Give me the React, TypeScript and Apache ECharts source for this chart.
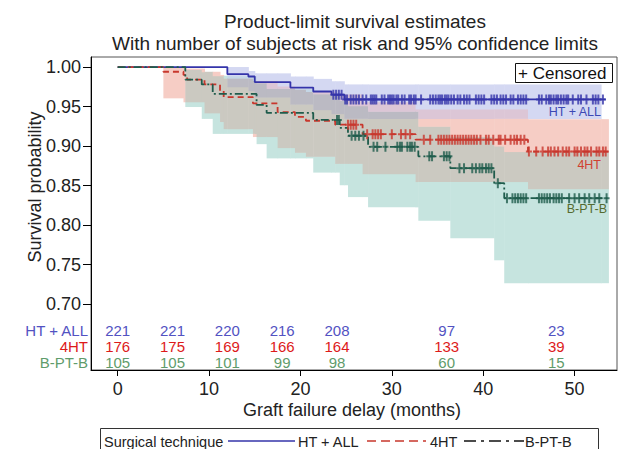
import React, { useEffect, useRef } from "react";
import * as echarts from "echarts";

const FONT = "'Liberation Sans', Arial, Helvetica, sans-serif";

// ---- axis ticks ----
const X_TICKS = [0, 10, 20, 30, 40, 50];
const Y_TICKS = [0.7, 0.75, 0.8, 0.85, 0.9, 0.95, 1.0];

// ---- Kaplan-Meier curves [time (months), survival] ----
const HT_ALL_CURVE: [number, number][] = [
  [0, 1.0], [12.0, 0.991], [14.3, 0.988], [15.0, 0.981], [18.9, 0.974],
  [21.4, 0.969], [23.4, 0.965], [24.8, 0.959], [53.4, 0.959],
];
const FOUR_HT_CURVE: [number, number][] = [
  [0, 1.0], [5.0, 0.994], [7.2, 0.99], [7.6, 0.984], [9.5, 0.978], [11.2, 0.97],
  [11.6, 0.962], [14.8, 0.954], [17.5, 0.943], [19.4, 0.937], [20.6, 0.932],
  [23.8, 0.927], [26.8, 0.915], [32.6, 0.908], [44.9, 0.893], [53.7, 0.893],
];
const BPTB_CURVE: [number, number][] = [
  [0, 1.0], [7.4, 0.984], [9.2, 0.978], [10.4, 0.966], [15.2, 0.952],
  [16.3, 0.942], [21.4, 0.933], [24.3, 0.923], [25.2, 0.913], [27.4, 0.899],
  [32.9, 0.887], [36.4, 0.872], [41.2, 0.853], [42.3, 0.834], [53.9, 0.834],
];

// ---- censored times ----
const HT_ALL_CENSORED = [
  23.6, 23.9, 24.2, 24.5, 24.9, 25.1, 25.5, 25.8, 26.1, 26.4, 26.8, 27.2, 27.7, 27.9,
  28.1, 28.3, 28.9, 29.2, 29.6, 29.8, 30.0, 30.2, 30.5, 30.7, 31.1, 31.4, 31.9, 32.1,
  32.4, 32.6, 33.2, 34.2, 34.5, 34.8, 35.1, 35.3, 35.5, 35.8, 36.0, 36.2, 36.5, 36.8,
  37.2, 37.5, 37.9, 38.2, 38.5, 39.2, 39.5, 39.8, 40.1, 40.9, 41.2, 41.5, 41.9, 42.2,
  42.5, 43.0, 43.3, 43.8, 44.1, 44.4, 44.7, 46.1, 46.4, 46.9, 47.2, 47.4, 47.7, 48.0,
  48.2, 48.5, 48.8, 49.1, 49.3, 49.8, 50.4, 50.7, 51.3, 52.0, 52.3, 52.6, 53.1,
];
const FOUR_HT_CENSORED = [
  25.2, 25.5, 25.8, 26.1, 27.3, 27.9, 28.2, 28.5, 28.8, 30.0, 31.0, 31.5, 32.0, 33.5,
  34.2, 35.1, 35.4, 35.7, 36.0, 36.3, 36.6, 36.9, 37.2, 37.5, 37.8, 38.1, 38.4, 38.7,
  39.0, 39.3, 39.7, 40.3, 40.6, 41.1, 41.7, 41.9, 42.4, 43.0, 43.4, 43.7, 44.1, 44.5,
  45.0, 45.8, 46.5, 47.1, 47.4, 47.8, 48.2, 48.7, 49.1, 49.4, 50.0, 50.3, 50.7, 51.1,
  51.4, 51.8, 52.4, 52.7, 53.1, 53.4,
];
const BPTB_CENSORED = [
  24.0, 24.2, 25.6, 26.0, 26.4, 26.9, 28.0, 28.4, 29.3, 30.6, 30.9, 31.1, 31.7, 32.0,
  32.2, 32.5, 34.1, 34.4, 35.7, 36.0, 36.3, 37.4, 37.9, 38.8, 39.2, 39.6, 39.9, 40.3,
  40.6, 40.9, 41.6, 42.6, 43.2, 43.5, 43.8, 44.1, 44.4, 44.7, 46.1, 46.4, 46.7, 47.0,
  47.3, 47.7, 48.0, 48.3, 48.6, 49.4, 50.0, 50.5, 51.1, 51.6, 52.2, 52.7, 53.5,
];

// ---- 95% confidence bands [time, lower, upper]; last row marks the end ----
const HT_ALL_BAND: [number, number, number][] = [
  [12.0, 0.975, 1.0], [14.3, 0.97, 0.995], [15.0, 0.962, 0.992], [18.9, 0.953, 0.988],
  [21.4, 0.946, 0.985], [23.4, 0.941, 0.982], [24.8, 0.935, 0.978], [52.9, 0.935, 0.978],
];
const FOUR_HT_BAND: [number, number, number][] = [
  [5.0, 0.961, 0.999], [7.2, 0.956, 0.998], [9.5, 0.942, 0.994], [11.2, 0.931, 0.99],
  [11.6, 0.922, 0.986], [14.8, 0.912, 0.983], [17.5, 0.898, 0.976], [19.4, 0.892, 0.972],
  [20.6, 0.887, 0.969], [23.8, 0.878, 0.966], [26.8, 0.865, 0.956], [32.6, 0.855, 0.947],
  [44.9, 0.846, 0.934], [53.7, 0.846, 0.934],
];
const BPTB_BAND: [number, number, number][] = [
  [7.4, 0.95, 0.997], [9.2, 0.935, 0.994], [10.4, 0.916, 0.989], [15.2, 0.903, 0.98],
  [16.3, 0.885, 0.973], [21.4, 0.867, 0.966], [24.3, 0.851, 0.958], [25.2, 0.836, 0.951],
  [27.4, 0.823, 0.944], [32.9, 0.806, 0.925], [36.4, 0.784, 0.912], [41.2, 0.756, 0.9],
  [42.3, 0.727, 0.893], [53.7, 0.727, 0.893],
];

// ---- number at risk ----
const RISK_TIMES = [0, 6, 12, 18, 24, 36, 48];
const RISK_HT_ALL = [221, 221, 220, 216, 208, 97, 23];
const RISK_4HT = [176, 175, 169, 166, 164, 133, 39];
const RISK_BPTB = [105, 105, 101, 99, 98, 60, 15];
const GROUPS = ["HT + ALL", "4HT", "B-PT-B"];

// ---- styling / layout ----
const BLUE = "#3434aa";
const RED = "#c8372d";
const GREEN = "#1f5c4c";
const RISK_COLORS = ["#5252c2", "#dd1a1a", "#5f9c6b"];
const ROW_Y = [330, 346, 362];
const MASK_COLORS: Record<number, string> = {
  1: "#d4d8f2", // HT+ALL only
  2: "#f6cdc5", // 4HT only
  4: "#c6e4df", // B-PT-B only
  3: "#dcc6d6",
  5: "#c4d6e6",
  6: "#cbc9c1",
  7: "#bbbac3",
};
const X_MIN = -2.92;
const X_MAX = 54.64;
const Y_MIN = 0.6165;
const Y_MAX = 1.0127;
const GRID = { left: 91, top: 57, width: 526, height: 313 };

function survAt(curve: [number, number][], t: number) {
  let s = curve[0][1];
  for (const [ti, si] of curve) if (ti <= t) s = si;
  return s;
}

function buildCells() {
  const bands = [HT_ALL_BAND, FOUR_HT_BAND, BPTB_BAND];
  const times = Array.from(new Set(bands.flatMap((b) => b.map((s) => s[0])))).sort((a, b) => a - b);
  const cells: number[][] = [];
  for (let i = 0; i < times.length - 1; i++) {
    const a = times[i];
    const b = times[i + 1];
    const active = bands.map((band) => {
      if (a < band[0][0] || b > band[band.length - 1][0]) return null;
      let seg: [number, number, number] | null = null;
      for (let k = 0; k < band.length - 1; k++) if (band[k][0] <= a) seg = band[k];
      return seg ? [seg[1], seg[2]] : null;
    });
    const ys = Array.from(new Set(active.flatMap((v) => (v ? v : [])))).sort((p, q) => p - q);
    for (let j = 0; j < ys.length - 1; j++) {
      const y1 = ys[j];
      const y2 = ys[j + 1];
      let mask = 0;
      active.forEach((v, idx) => {
        if (v && v[0] <= y1 && v[1] >= y2) mask |= 1 << idx;
      });
      if (mask) cells.push([a, b, y1, y2, mask]);
    }
  }
  return cells;
}

const CROSS = "path://M2,0H4V4H6V6H4V10H2V6H0V4H2Z";

function txt(text: string, x: number, y: number, size: number, fill: string, align = "center", extra: any = {}) {
  return {
    type: "text",
    x,
    y,
    silent: true,
    ...extra,
    style: {
      text,
      fill,
      font: `normal ${size}px ${FONT}`,
      textAlign: align,
      align,
      textVerticalAlign: "middle",
      verticalAlign: "middle",
    },
  };
}

export default function App() {
  const ref = useRef<HTMLDivElement>(null);
  useEffect(() => {
    if (!ref.current) return;
    const chart = echarts.init(ref.current, null, { renderer: "svg" });
    const cells = buildCells();
    const riskData: number[][] = [];
    [RISK_HT_ALL, RISK_4HT, RISK_BPTB].forEach((arr, row) =>
      arr.forEach((n, i) => riskData.push([RISK_TIMES[i], row, n]))
    );
    const censorSeries = (times: number[], curve: [number, number][], color: string) => ({
      type: "scatter",
      data: times.map((t) => [t, survAt(curve, t)]),
      symbol: CROSS,
      symbolSize: [6, 10],
      itemStyle: { color },
      z: 4,
      silent: true,
    });
    const lineSeries = (curve: [number, number][], color: string, type: any) => ({
      type: "line",
      step: "end",
      data: curve,
      showSymbol: false,
      symbol: "none",
      lineStyle: { color, width: 1.8, type },
      z: 3,
      silent: true,
    });
    chart.setOption({
      animation: false,
      grid: { ...GRID, show: true, borderColor: "#555", borderWidth: 1, backgroundColor: "transparent" },
      xAxis: {
        type: "value",
        min: X_MIN,
        max: X_MAX,
        axisLine: { show: true, onZero: false, lineStyle: { color: "#000", width: 1 } },
        axisTick: { show: true, length: 6, customValues: X_TICKS, lineStyle: { color: "#000" } },
        axisLabel: { customValues: X_TICKS, fontSize: 18, color: "#222", margin: 10, fontFamily: FONT },
        splitLine: { show: false },
      },
      yAxis: {
        type: "value",
        min: Y_MIN,
        max: Y_MAX,
        axisLine: { show: true, onZero: false, lineStyle: { color: "#000", width: 1 } },
        axisTick: { show: true, length: 8, customValues: Y_TICKS, lineStyle: { color: "#000" } },
        axisLabel: {
          customValues: Y_TICKS,
          formatter: (v: number) => v.toFixed(2),
          fontSize: 18,
          color: "#222",
          margin: 10,
          fontFamily: FONT,
        },
        splitLine: { show: false },
      },
      series: [
        {
          type: "custom",
          data: cells,
          encode: { x: [0, 1], y: [2, 3] },
          z: 1,
          silent: true,
          renderItem: (_p: any, api: any) => {
            const p1 = api.coord([api.value(0), api.value(3)]);
            const p2 = api.coord([api.value(1), api.value(2)]);
            return {
              type: "rect",
              shape: { x: p1[0], y: p1[1], width: p2[0] - p1[0] + 0.5, height: p2[1] - p1[1] + 0.5 },
              style: { fill: MASK_COLORS[api.value(4)] },
            };
          },
        },
        lineSeries(HT_ALL_CURVE, BLUE, "solid"),
        lineSeries(FOUR_HT_CURVE, RED, [6, 4]),
        lineSeries(BPTB_CURVE, GREEN, [8, 3, 2, 3]),
        censorSeries(HT_ALL_CENSORED, HT_ALL_CURVE, BLUE),
        censorSeries(FOUR_HT_CENSORED, FOUR_HT_CURVE, RED),
        censorSeries(BPTB_CENSORED, BPTB_CURVE, GREEN),
        {
          type: "custom",
          data: riskData,
          encode: { x: 0 },
          clip: false,
          z: 5,
          silent: true,
          renderItem: (_p: any, api: any) => {
            const x = api.coord([api.value(0), Y_MIN])[0];
            const row = api.value(1);
            return {
              type: "text",
              x,
              y: ROW_Y[row],
              style: {
                text: String(api.value(2)),
                fill: RISK_COLORS[row],
                font: `15px ${FONT}`,
                textAlign: "center",
                align: "center",
                textVerticalAlign: "middle",
                verticalAlign: "middle",
              },
            };
          },
        },
      ],
      graphic: [
        txt("Product-limit survival estimates", 355, 21, 19, "#222"),
        txt("With number of subjects at risk and 95% confidence limits", 355, 43, 19, "#222"),
        txt("Survival probability", 35, 187, 18, "#222", "center", { rotation: Math.PI / 2 }),
        txt("Graft failure delay (months)", 352, 410, 18, "#222"),
        ...GROUPS.map((g, i) => txt(g, 88, ROW_Y[i], 15, RISK_COLORS[i], "right")),
        {
          type: "rect",
          shape: { x: 515.5, y: 63.5, width: 97, height: 19 },
          style: { fill: "#fff", stroke: "#111", lineWidth: 1 },
          z: 10,
        },
        { ...txt("+ Censored", 518, 73.5, 17, "#111", "left"), z: 11 },
        { ...txt("HT + ALL", 601, 112, 12.5, "#3c48b4", "right"), z: 11 },
        { ...txt("4HT", 601, 165, 12.5, "#d04030", "right"), z: 11 },
        { ...txt("B-PT-B", 607, 209, 12.5, "#556b2f", "right"), z: 11 },
        {
          type: "rect",
          shape: { x: 100.5, y: 428.5, width: 498, height: 30 },
          style: { fill: "none", stroke: "#333", lineWidth: 1 },
        },
        txt("Surgical technique", 104, 442, 14.5, "#222", "left"),
        { type: "line", shape: { x1: 228, y1: 441, x2: 295, y2: 441 }, style: { stroke: BLUE, lineWidth: 1.5 } },
        txt("HT + ALL", 298, 442, 14.5, "#222", "left"),
        {
          type: "line",
          shape: { x1: 367, y1: 441, x2: 426, y2: 441 },
          style: { stroke: RED, lineWidth: 1.5, lineDash: [9, 5] },
        },
        txt("4HT", 430, 442, 14.5, "#222", "left"),
        {
          type: "line",
          shape: { x1: 464, y1: 441, x2: 524, y2: 441 },
          style: { stroke: "#111", lineWidth: 1.5, lineDash: [12, 5, 3, 5] },
        },
        txt("B-PT-B", 525, 442, 14.5, "#222", "left"),
      ],
    });
    return () => chart.dispose();
  }, []);
  return (
    <div
      ref={ref}
      style={{ position: "fixed", left: 0, top: 0, width: 621, height: 449, background: "#fff" }}
    />
  );
}
